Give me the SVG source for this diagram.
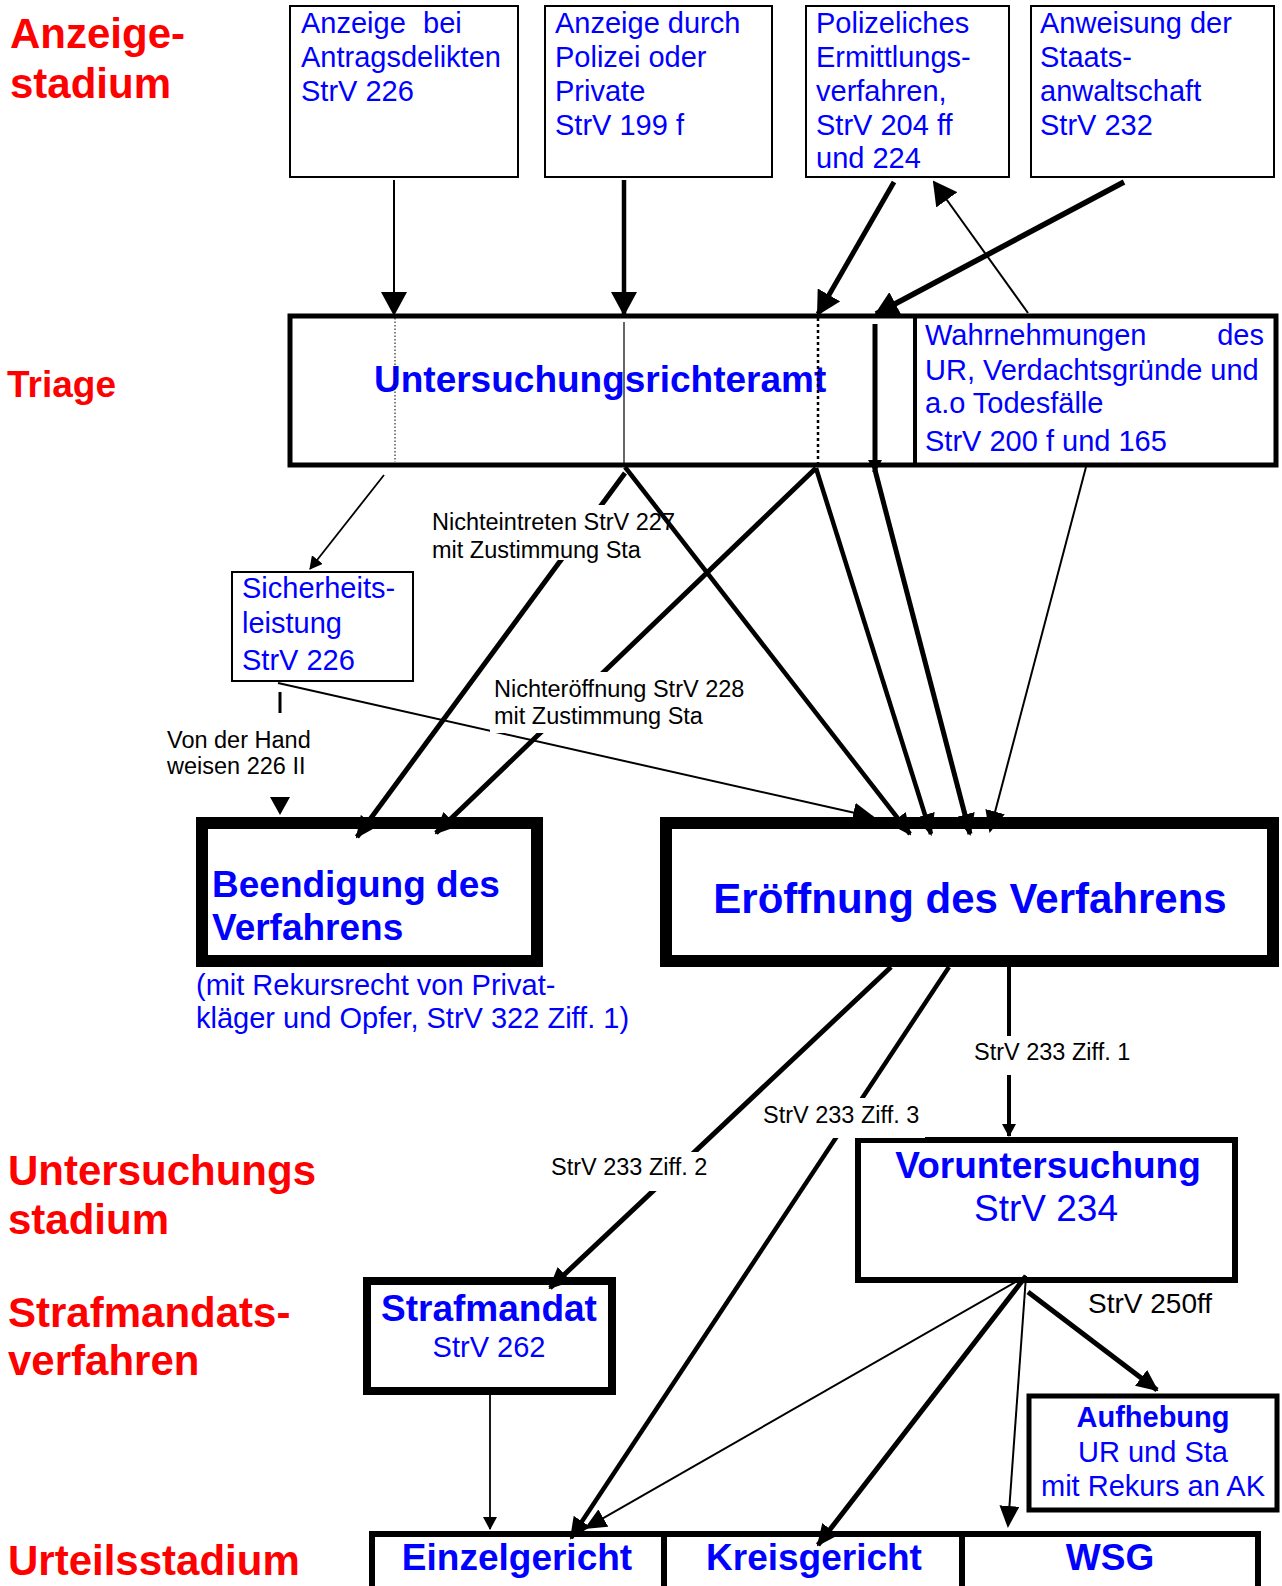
<svg xmlns="http://www.w3.org/2000/svg" width="1282" height="1586" viewBox="0 0 1282 1586">
<style>
text{font-family:"Liberation Sans",Arial,sans-serif}
.b{fill:#0000FF;font-size:29px}
.bb{fill:#0000FF;font-size:37px;font-weight:bold}
.red{fill:#FF0000;font-size:42px;font-weight:bold}
.lbl{fill:#000;font-size:23.5px}
.box{fill:#fff;stroke:#000}
.ln{stroke:#000;fill:none}
.bg{fill:#fff}
</style>
<defs>
<marker id="big" markerUnits="userSpaceOnUse" viewBox="0 0 24 26" markerWidth="24" markerHeight="26" refX="22" refY="13" orient="auto"><path d="M0,0 L24,13 L0,26 z" fill="#000"/></marker>
<marker id="med" markerUnits="userSpaceOnUse" viewBox="0 0 22 20" markerWidth="22" markerHeight="20" refX="20" refY="10" orient="auto"><path d="M0,0 L22,10 L0,20 z" fill="#000"/></marker>
<marker id="sm" markerUnits="userSpaceOnUse" viewBox="0 0 13 14" markerWidth="13" markerHeight="14" refX="12" refY="7" orient="auto"><path d="M0,0 L13,7 L0,14 z" fill="#000"/></marker>
</defs>
<rect width="1282" height="1586" fill="#fff"/>

<g id="stages">
<text class="red" x="10" y="48">Anzeige-</text>
<text class="red" x="10" y="98">stadium</text>
<text class="red" x="7" y="397" style="font-size:37px">Triage</text>
<text class="red" x="8" y="1185">Untersuchungs</text>
<text class="red" x="8" y="1234">stadium</text>
<text class="red" x="8" y="1327">Strafmandats-</text>
<text class="red" x="8" y="1375">verfahren</text>
<text class="red" x="8" y="1575">Urteilsstadium</text>
</g>

<g id="n-antrag">
<rect class="box" x="290" y="6" width="228" height="171" stroke-width="2"/>
<text class="b" x="301" y="33">Anzeige</text><text class="b" x="423" y="33">bei</text>
<text class="b" x="301" y="67">Antragsdelikten</text>
<text class="b" x="301" y="101">StrV 226</text>
</g>
<g id="n-polizei">
<rect class="box" x="545" y="6" width="227" height="171" stroke-width="2"/>
<text class="b" x="555" y="33">Anzeige durch</text>
<text class="b" x="555" y="67">Polizei oder</text>
<text class="b" x="555" y="101">Private</text>
<text class="b" x="555" y="135">StrV 199 f</text>
</g>
<g id="n-ermittlung">
<rect class="box" x="806" y="6" width="203" height="171" stroke-width="2"/>
<text class="b" x="816" y="33">Polizeliches</text>
<text class="b" x="816" y="67">Ermittlungs-</text>
<text class="b" x="816" y="101">verfahren,</text>
<text class="b" x="816" y="135">StrV 204 ff</text>
<text class="b" x="816" y="168">und 224</text>
</g>
<g id="n-sta">
<rect class="box" x="1031" y="6" width="243" height="171" stroke-width="2"/>
<text class="b" x="1040" y="33">Anweisung der</text>
<text class="b" x="1040" y="67">Staats-</text>
<text class="b" x="1040" y="101">anwaltschaft</text>
<text class="b" x="1040" y="135">StrV 232</text>
</g>

<g id="n-ura">
<rect class="box" x="290" y="316" width="986" height="149" stroke-width="5"/>
<text class="bb" x="374" y="392">Untersuchungsrichteramt</text>
<line class="ln" x1="915" y1="316" x2="915" y2="465" stroke-width="4"/>
<text class="b" x="925" y="345">Wahrnehmungen</text><text class="b" x="1264" y="345" text-anchor="end">des</text>
<text class="b" x="925" y="380">UR, Verdachtsgründe und</text>
<text class="b" x="925" y="413">a.o Todesfälle</text>
<text class="b" x="925" y="451">StrV 200 f und 165</text>
</g>

<g id="n-sicherheit">
<rect class="box" x="232" y="572" width="181" height="109" stroke-width="2"/>
<text class="b" x="242" y="598">Sicherheits-</text>
<text class="b" x="242" y="633">leistung</text>
<text class="b" x="242" y="670">StrV 226</text>
</g>

<g id="n-beendigung">
<rect class="box" x="202" y="823" width="335" height="138" stroke-width="12"/>
<text class="bb" x="212" y="897">Beendigung des</text>
<text class="bb" x="212" y="940">Verfahrens</text>
<text class="b" x="196" y="995">(mit Rekursrecht von Privat-</text>
<text class="b" x="196" y="1028">kläger und Opfer, StrV 322 Ziff. 1)</text>
</g>

<g id="n-eroeffnung">
<rect class="box" x="666" y="823" width="607" height="138" stroke-width="12"/>
<text class="bb" x="970" y="913" text-anchor="middle" style="font-size:42px">Eröffnung des Verfahrens</text>
</g>

<g id="n-vorunters">
<rect class="box" x="858" y="1140" width="377" height="140" stroke-width="6"/>
<text class="bb" x="1048" y="1178" text-anchor="middle">Voruntersuchung</text>
<text class="b" x="1046" y="1221" text-anchor="middle" style="font-size:37px">StrV 234</text>
</g>

<g id="n-strafmandat">
<rect class="box" x="367" y="1281" width="245" height="110" stroke-width="8"/>
<text class="bb" x="489" y="1321" text-anchor="middle">Strafmandat</text>
<text class="b" x="489" y="1357" text-anchor="middle">StrV 262</text>
</g>

<g id="n-aufhebung">
<rect class="box" x="1029" y="1396" width="248" height="114" stroke-width="5"/>
<text class="b" x="1153" y="1427" text-anchor="middle" font-weight="bold">Aufhebung</text>
<text class="b" x="1153" y="1462" text-anchor="middle">UR und Sta</text>
<text class="b" x="1153" y="1496" text-anchor="middle">mit Rekurs an AK</text>
</g>

<g id="n-einzel">
<rect class="box" x="372" y="1534" width="292" height="70" stroke-width="6"/>
<text class="bb" x="517" y="1570" text-anchor="middle">Einzelgericht</text>
</g>
<g id="n-kreis">
<rect class="box" x="664" y="1534" width="298" height="70" stroke-width="6"/>
<text class="bb" x="814" y="1570" text-anchor="middle">Kreisgericht</text>
</g>
<g id="n-wsg">
<rect class="box" x="962" y="1534" width="296" height="70" stroke-width="6"/>
<text class="bb" x="1110" y="1570" text-anchor="middle">WSG</text>
</g>

<g id="connectors">
<line class="ln" x1="395" y1="318" x2="395" y2="462" stroke-width="1" stroke-dasharray="1.5,2"/>
<line class="ln" x1="624" y1="322" x2="624" y2="465" stroke="#999" stroke-width="1.2"/>
<line class="ln" x1="818" y1="318" x2="818" y2="465" stroke-width="2.5" stroke-dasharray="3,3"/>
<line class="ln" x1="875" y1="324" x2="875" y2="472" stroke-width="5" marker-end="url(#sm)"/>

<line class="ln" x1="394" y1="180" x2="394" y2="314" stroke-width="2" marker-end="url(#big)"/>
<line class="ln" x1="624" y1="180" x2="624" y2="314" stroke-width="4.5" marker-end="url(#big)"/>
<line class="ln" x1="894" y1="182" x2="818" y2="314" stroke-width="5" marker-end="url(#big)"/>
<line class="ln" x1="1124" y1="182" x2="876" y2="314" stroke-width="5.5" marker-end="url(#big)"/>
<line class="ln" x1="1028" y1="313" x2="934" y2="182" stroke-width="2" marker-end="url(#big)"/>

<line class="ln" x1="384" y1="475" x2="310" y2="569" stroke-width="1.8" marker-end="url(#sm)"/>
<line class="ln" x1="625" y1="473" x2="357" y2="837" stroke-width="5" marker-end="url(#med)"/>
<line class="ln" x1="816" y1="468" x2="436" y2="833" stroke-width="5" marker-end="url(#med)"/>
<line class="ln" x1="278" y1="683" x2="873" y2="817" stroke-width="2" marker-end="url(#med)"/>

<rect class="bg" x="430" y="505" width="262" height="55"/>
<text class="lbl" x="432" y="530">Nichteintreten StrV 227</text>
<text class="lbl" x="432" y="558">mit Zustimmung Sta</text>
<rect class="bg" x="490" y="672" width="258" height="61"/>
<text class="lbl" x="494" y="697">Nichteröffnung StrV 228</text>
<text class="lbl" x="494" y="724">mit Zustimmung Sta</text>

<line class="ln" x1="625" y1="467" x2="910" y2="834" stroke-width="4.5" marker-end="url(#med)"/>
<line class="ln" x1="816" y1="468" x2="931" y2="834" stroke-width="4.5" marker-end="url(#med)"/>
<line class="ln" x1="875" y1="470" x2="970" y2="834" stroke-width="5" marker-end="url(#med)"/>
<line class="ln" x1="1086" y1="467" x2="990" y2="831" stroke-width="2" marker-end="url(#med)"/>

<line class="ln" x1="280" y1="692" x2="280" y2="713" stroke-width="3"/>
<polygon points="270,797 290,797 280,815" fill="#000"/>
<text class="lbl" x="167" y="748">Von der Hand</text>
<text class="lbl" x="167" y="774">weisen 226 II</text>

<line class="ln" x1="891" y1="967" x2="550" y2="1288" stroke-width="5" marker-end="url(#med)"/>
<line class="ln" x1="949" y1="967" x2="571" y2="1538" stroke-width="4.5" marker-end="url(#med)"/>
<line class="ln" x1="1009" y1="967" x2="1009" y2="1136" stroke-width="4" marker-end="url(#sm)"/>
<rect class="bg" x="545" y="1152" width="167" height="39"/>
<text class="lbl" x="551" y="1175">StrV 233 Ziff. 2</text>
<rect class="bg" x="758" y="1098" width="167" height="40"/>
<text class="lbl" x="763" y="1123">StrV 233 Ziff. 3</text>
<rect class="bg" x="970" y="1036" width="165" height="39"/>
<text class="lbl" x="974" y="1060">StrV 233 Ziff. 1</text>

<line class="ln" x1="490" y1="1395" x2="490" y2="1529" stroke-width="1.8" marker-end="url(#sm)"/>

<line class="ln" x1="1026" y1="1276" x2="586" y2="1528" stroke-width="2" marker-end="url(#med)"/>
<line class="ln" x1="1026" y1="1276" x2="818" y2="1545" stroke-width="5" marker-end="url(#med)"/>
<line class="ln" x1="1026" y1="1276" x2="1008" y2="1526" stroke-width="2" marker-end="url(#med)"/>
<line class="ln" x1="1028" y1="1292" x2="1157" y2="1390" stroke-width="5" marker-end="url(#med)"/>
<text class="lbl" x="1088" y="1313" style="font-size:28px">StrV 250ff</text>
</g>
</svg>
